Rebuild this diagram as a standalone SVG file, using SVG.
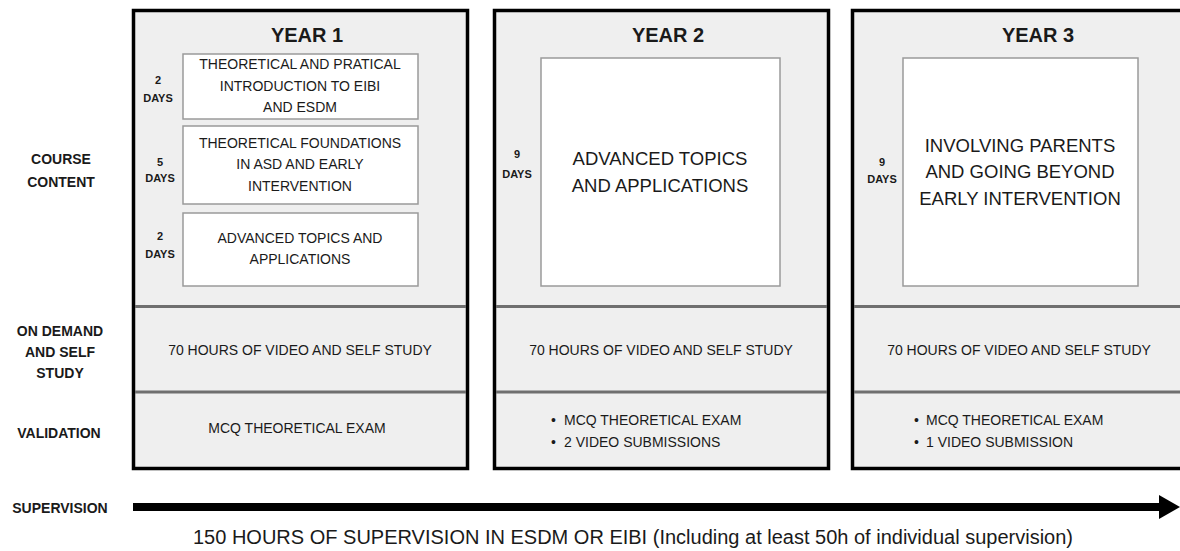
<svg xmlns="http://www.w3.org/2000/svg" width="1180" height="551" viewBox="0 0 1180 551">
<style>
text{font-family:"Liberation Sans",Arial,sans-serif;fill:#1a1a1a}
.year{fill:#efefef;stroke:#000;stroke-width:3.5}
.div{stroke:#6f6f6f;stroke-width:3}
.inner{fill:#fff;stroke:#9a9a9a;stroke-width:1.5}
.title{font-size:20px;font-weight:bold;text-anchor:middle}
.lab{font-size:14px;font-weight:bold;text-anchor:middle}
.days{font-size:11px;font-weight:bold;text-anchor:middle}
.t14{font-size:14px;text-anchor:middle}
.t14l{font-size:14px}
.big{font-size:18.5px;text-anchor:middle}
</style>
<rect width="1180" height="551" fill="#fff"/>

<g id="labels">
  <text class="lab" x="61" y="164">COURSE</text>
  <text class="lab" x="61" y="187">CONTENT</text>
  <text class="lab" x="60" y="336">ON DEMAND</text>
  <text class="lab" x="60" y="357">AND SELF</text>
  <text class="lab" x="60" y="378">STUDY</text>
  <text class="lab" x="59" y="438">VALIDATION</text>
  <text class="lab" x="60" y="513">SUPERVISION</text>
</g>

<g id="year1">
  <rect class="year" x="133.5" y="10.5" width="334" height="458"/>
  <line class="div" x1="135" y1="306.5" x2="466" y2="306.5"/>
  <line class="div" x1="135" y1="392" x2="466" y2="392"/>
  <text class="title" x="307" y="42">YEAR 1</text>
  <g id="y1-mod1">
    <rect class="inner" x="183" y="54" width="235" height="65"/>
    <text class="t14" x="300" y="69">THEORETICAL AND PRATICAL</text>
    <text class="t14" x="300" y="91">INTRODUCTION TO EIBI</text>
    <text class="t14" x="300" y="112">AND ESDM</text>
    <text class="days" x="158" y="84">2</text>
    <text class="days" x="158" y="102">DAYS</text>
  </g>
  <g id="y1-mod2">
    <rect class="inner" x="183" y="126" width="235" height="78"/>
    <text class="t14" x="300" y="148">THEORETICAL FOUNDATIONS</text>
    <text class="t14" x="300" y="169">IN ASD AND EARLY</text>
    <text class="t14" x="300" y="191">INTERVENTION</text>
    <text class="days" x="160" y="166">5</text>
    <text class="days" x="160" y="182">DAYS</text>
  </g>
  <g id="y1-mod3">
    <rect class="inner" x="183" y="213" width="235" height="73"/>
    <text class="t14" x="300" y="243">ADVANCED TOPICS AND</text>
    <text class="t14" x="300" y="264">APPLICATIONS</text>
    <text class="days" x="160" y="240">2</text>
    <text class="days" x="160" y="258">DAYS</text>
  </g>
  <text class="t14" x="300" y="355">70 HOURS OF VIDEO AND SELF STUDY</text>
  <text class="t14" x="297" y="433">MCQ THEORETICAL EXAM</text>
</g>

<g id="year2">
  <rect class="year" x="494.5" y="10.5" width="334" height="458"/>
  <line class="div" x1="496" y1="306.5" x2="827" y2="306.5"/>
  <line class="div" x1="496" y1="392" x2="827" y2="392"/>
  <text class="title" x="668" y="42">YEAR 2</text>
  <g id="y2-mod">
    <rect class="inner" x="541" y="58" width="239" height="228"/>
    <text class="big" x="660" y="165">ADVANCED TOPICS</text>
    <text class="big" x="660" y="192">AND APPLICATIONS</text>
    <text class="days" x="517" y="158">9</text>
    <text class="days" x="517" y="178">DAYS</text>
  </g>
  <text class="t14" x="661" y="355">70 HOURS OF VIDEO AND SELF STUDY</text>
  <text class="t14l" x="551" y="425">•</text>
  <text class="t14l" x="564" y="425">MCQ THEORETICAL EXAM</text>
  <text class="t14l" x="551" y="447">•</text>
  <text class="t14l" x="564" y="447">2 VIDEO SUBMISSIONS</text>
</g>

<g id="year3">
  <rect class="year" x="852.5" y="10.5" width="360" height="458"/>
  <line class="div" x1="854" y1="306.5" x2="1180" y2="306.5"/>
  <line class="div" x1="854" y1="392" x2="1180" y2="392"/>
  <text class="title" x="1038" y="42">YEAR 3</text>
  <g id="y3-mod">
    <rect class="inner" x="903" y="58" width="235" height="228"/>
    <text class="big" x="1020" y="152">INVOLVING PARENTS</text>
    <text class="big" x="1020" y="178">AND GOING BEYOND</text>
    <text class="big" x="1020" y="205">EARLY INTERVENTION</text>
    <text class="days" x="882" y="166">9</text>
    <text class="days" x="882" y="183">DAYS</text>
  </g>
  <text class="t14" x="1019" y="355">70 HOURS OF VIDEO AND SELF STUDY</text>
  <text class="t14l" x="914" y="425">•</text>
  <text class="t14l" x="926" y="425">MCQ THEORETICAL EXAM</text>
  <text class="t14l" x="914" y="447">•</text>
  <text class="t14l" x="926" y="447">1 VIDEO SUBMISSION</text>
</g>

<g id="connectors">
  <line x1="133" y1="507" x2="1162" y2="507" stroke="#000" stroke-width="8"/>
  <polygon points="1159,495 1180,507 1159,519" fill="#000"/>
</g>
<text x="633" y="544" style="font-size:20px;text-anchor:middle">150 HOURS OF SUPERVISION IN ESDM OR EIBI (Including at least 50h of individual supervision)</text>
</svg>
